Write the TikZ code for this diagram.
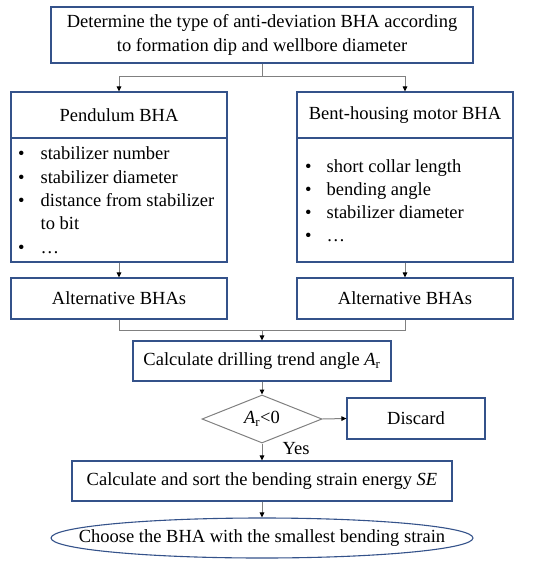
\documentclass[tikz,border=0pt]{standalone}
\usepackage{fontspec}
\setmainfont{Liberation Serif}
\usetikzlibrary{arrows.meta,shapes.geometric}
\definecolor{boxblue}{RGB}{52,82,138}
\definecolor{linegray}{RGB}{128,128,128}
\begin{document}
\begin{tikzpicture}[x=1bp,y=-1bp,
  every node/.style={font=\fontsize{18.5bp}{23.3bp}\selectfont, inner sep=0pt, text=black},
  bbox/.style={draw=boxblue, line width=1.1bp, rectangle},
  conn/.style={draw=linegray, line width=1bp},
  arr/.style={conn, -{Triangle[length=5bp,width=4.5bp,black]}},
  lbl/.style={align=left, anchor=base west}
]
\useasboundingbox (0,0) rectangle (550,566);
% top
\node[bbox, minimum width=422bp, minimum height=56bp, align=center] (top) at (262,35)
  {Determine the type of anti-deviation BHA according\\to formation dip and wellbore diameter};
% left box
\node[bbox, minimum width=216bp, minimum height=170bp] (left) at (119,177) {};
\node (lt) at (119,115) {Pendulum BHA};
\coordinate (ld1) at (11,138);
\coordinate (ld2) at (227,138);
\draw[boxblue, line width=1.1bp] (ld1) -- (ld2);
\node[lbl] (llist) at (18,160) {\begin{tabular}[t]{@{}l@{\hspace{16bp}}l@{}}
\textbullet & stabilizer number\\
\textbullet & stabilizer diameter\\
\textbullet & distance from stabilizer\\
 & to bit\\
\textbullet & \dots
\end{tabular}};
% right box
\node[bbox, minimum width=216bp, minimum height=170bp] (right) at (405,177) {};
\node (rt) at (405,115) {Bent-housing motor BHA};
\coordinate (rd1) at (297,138);
\coordinate (rd2) at (513,138);
\draw[boxblue, line width=1.1bp] (rd1) -- (rd2);
\node[lbl] (rlist) at (305,172) {\begin{tabular}[t]{@{}l@{\hspace{15bp}}l@{}}
\textbullet & short collar length\\
\textbullet & bending angle\\
\textbullet & stabilizer diameter\\
\textbullet & \dots
\end{tabular}};
% alternatives
\node[bbox, minimum width=216bp, minimum height=41bp] (la) at (119,298.5) {Alternative BHAs};
\node[bbox, minimum width=216bp, minimum height=41bp] (ra) at (405,298.5) {Alternative BHAs};
% calc
\node[bbox, minimum width=258bp, minimum height=40bp] (calc) at (262,361) {Calculate drilling trend angle \textit{A}\textsubscript{r}};
% diamond
\node[diamond, draw=linegray, line width=1bp, minimum width=120bp, minimum height=48bp, aspect=2.5] (dia) at (262,419) {\textit{A}\textsubscript{r}<0};
\node[bbox, minimum width=138bp, minimum height=41bp] (disc) at (416,418.5) {Discard};
\node (yes) at (296,449) {Yes};
% SE
\node[bbox, minimum width=380bp, minimum height=40bp] (se) at (262,481) {Calculate and sort the bending strain energy \textit{SE}};
% ellipse
\node[ellipse, draw=boxblue, line width=1.1bp, minimum width=422bp, minimum height=40bp] (ch) at (262,538) {};
\node (cht) at (262,538) {Choose the BHA with the smallest bending strain};
% connectors
\coordinate (s1) at (262,77);
\draw[conn] (top.south) -- (s1);
\draw[arr] (s1) -| (left.north);
\draw[arr] (s1) -| (right.north);
\draw[arr] (left.south) -- (la.north);
\draw[arr] (right.south) -- (ra.north);
\coordinate (m1) at (262,330);
\draw[conn] (la.south) |- (m1);
\draw[conn] (ra.south) |- (m1);
\draw[arr] (m1) -- (calc.north);
\draw[arr] (calc.south) -- (dia.north);
\draw[arr] (dia.east) -- (disc.west);
\draw[arr] (dia.south) -- (se.north);
\draw[arr] (se.south) -- (ch.north);
\end{tikzpicture}
\end{document}
